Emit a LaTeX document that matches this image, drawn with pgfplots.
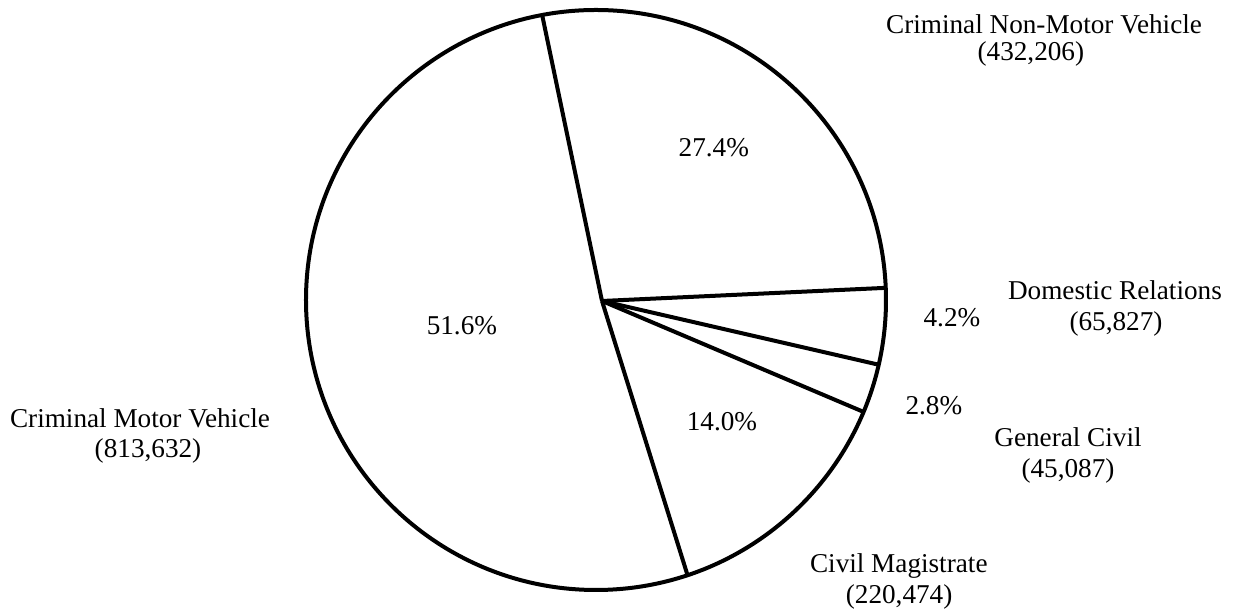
\documentclass[border=0pt]{standalone}
\usepackage{pgfplots}
\pgfplotsset{compat=1.18}
\usepgfplotslibrary{polar}
\usepackage{fontspec}
\setmainfont{Liberation Serif}
\begin{document}
\begin{tikzpicture}
\fontsize{13.6}{16}\selectfont
\useasboundingbox (0,0) rectangle (616.5pt,306.5pt);
\begin{polaraxis}[
  at={(298pt,156.5pt)}, anchor=origin,
  scale only axis, width=290pt, height=290pt,
  xmin=0, xmax=360, ymin=0, ymax=1,
  xtick=\empty, ytick=\empty, grid=none,
  x axis line style={line width=2pt, black},
  y axis line style={draw=none},
  clip=false,
  cycle list={{black, line width=2pt, mark=none}},
]
% slice boundaries (angle, radius)
\addplot[black, line width=2pt, mark=none] coordinates {(-9.5,0.021) (100.7,1)};
\addplot[black, line width=2pt, mark=none] coordinates {(-9.5,0.021) (2.4,1)};
\addplot[black, line width=2pt, mark=none] coordinates {(-9.5,0.021) (-12.9,1)};
\addplot[black, line width=2pt, mark=none] coordinates {(-9.5,0.021) (-22.7,1)};
\addplot[black, line width=2pt, mark=none] coordinates {(-9.5,0.021) (-71.6,1)};
% percentages
\node at (axis cs:52.2,0.663) {27.4\%};
\node at (axis cs:-2.9,1.229) {4.2\%};
\node at (axis cs:-17.4,1.221) {2.8\%};
\node at (axis cs:-44.1,0.605) {14.0\%};
\node at (axis cs:191.0,0.471) {51.6\%};
% category labels
\node at (axis cs:31.6,1.814) {Criminal Non-Motor Vehicle};
\node at (axis cs:29.5,1.723) {(432,206)};
\node at (axis cs:1.1,1.790) {Domestic Relations};
\node at (axis cs:-2.64,1.795) {(65,827)};
\node at (axis cs:-16.2,1.695) {General Civil};
\node at (axis cs:-19.9,1.731) {(45,087)};
\node at (axis cs:-41.3,1.390) {Civil Magistrate};
\node at (axis cs:-44.4,1.463) {(220,474)};
\node at (axis cs:194.6,1.625) {Criminal Motor Vehicle};
\node at (axis cs:198.6,1.630) {(813,632)};
\end{polaraxis}
\end{tikzpicture}
\end{document}
